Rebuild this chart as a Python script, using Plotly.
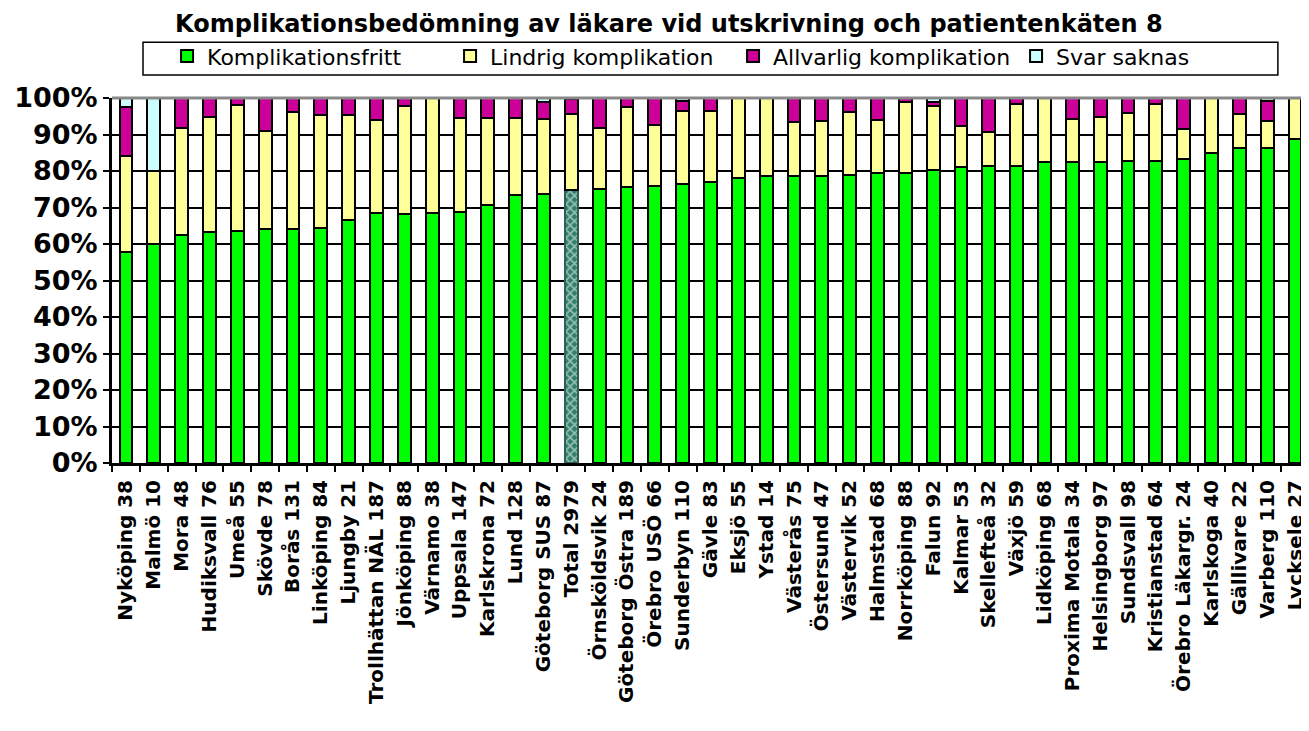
import plotly.graph_objects as go

categories = ["Nyköping 38", "Malmö 10", "Mora 48", "Hudiksvall 76", "Umeå 55", "Skövde 78",
              "Borås 131", "Linköping 84", "Ljungby 21", "Trollhättan NÄL 187", "Jönköping 88",
              "Värnamo 38", "Uppsala 147", "Karlskrona 72", "Lund 128", "Göteborg SUS 87",
              "Total 2979", "Örnsköldsvik 24", "Göteborg Östra 189", "Örebro USÖ 66",
              "Sunderbyn 110", "Gävle 83", "Eksjö 55", "Ystad 14", "Västerås 75",
              "Östersund 47", "Västervik 52", "Halmstad 68", "Norrköping 88", "Falun 92",
              "Kalmar 53", "Skellefteå 32", "Växjö 59", "Lidköping 68", "Proxima Motala 34",
              "Helsingborg 97", "Sundsvall 98", "Kristianstad 64", "Örebro Läkargr. 24",
              "Karlskoga 40", "Gällivare 22", "Varberg 110", "Lycksele 27"]

komplikationsfritt = [57.9, 60.0, 62.5, 63.2, 63.6, 64.1, 64.1, 64.3, 66.7, 68.4, 68.2, 68.4, 68.7,
                      70.8, 73.4, 73.6, 74.8, 75.0, 75.7, 75.8, 76.4, 77.1, 78.2, 78.6, 78.7, 78.7,
                      78.8, 79.4, 79.5, 80.4, 81.1, 81.3, 81.4, 82.4, 82.4, 82.5, 82.7, 82.8, 83.3,
                      85.0, 86.4, 86.4, 88.9]
lindrig = [26.3, 20.0, 29.2, 31.6, 34.5, 26.9, 32.1, 31.0, 28.6, 25.7, 29.5, 31.6, 25.9, 23.6,
           21.1, 20.7, 20.8, 16.7, 21.7, 16.7, 20.0, 19.3, 21.8, 21.4, 14.7, 14.9, 17.3, 14.7,
           19.3, 17.4, 11.3, 9.4, 16.9, 17.6, 11.8, 12.4, 13.3, 15.6, 8.3, 15.0, 9.1, 7.3, 11.1]
allvarlig = [13.2, None, 8.3, 5.3, 1.8, 9.0, 3.8, 4.8, 4.8, 5.9, 2.3, None, 5.4, 5.6, 5.5, 4.6,
             4.2, 8.3, 2.6, 7.6, 2.7, 3.6, None, None, 6.7, 6.4, 3.8, 5.9, 1.1, 1.1, 7.5, 9.4,
             1.7, None, 5.9, 5.2, 4.1, 1.6, 8.3, None, 4.5, 5.5, None]
svar_saknas = [2.6, 20.0, None, None, None, None, None, None, None, None, None, None, None, None,
               None, 1.1, 0.2, None, None, None, 0.9, None, None, None, None, None, None, None,
               None, 1.1, None, None, None, None, None, None, None, None, None, None, None, 0.9,
               None]

y_ticks = [0, 10, 20, 30, 40, 50, 60, 70, 80, 90, 100]

GREEN = "#00ff00"
YELLOW = "#ffff99"
PURPLE = "#cc0099"
CYAN = "#ccffff"

green_colors = ["#2f7f6a" if c.startswith("Total") else GREEN for c in categories]
green_pattern = ["x" if c.startswith("Total") else "" for c in categories]
green_lines = ["#2f5f55" if c.startswith("Total") else "black" for c in categories]

bar_w = 0.46
line = dict(color="black", width=2)

fig = go.Figure()
fig.add_trace(go.Bar(x=categories, y=komplikationsfritt, name="Komplikationsfritt", width=bar_w,
                     marker=dict(color=green_colors, line=dict(color=green_lines, width=2),
                                 pattern=dict(shape=green_pattern, fgcolor=GREEN, size=6, solidity=0.45))))
fig.add_trace(go.Bar(x=categories, y=lindrig, name="Lindrig komplikation", width=bar_w,
                     marker=dict(color=YELLOW, line=line)))
fig.add_trace(go.Bar(x=categories, y=allvarlig, name="Allvarlig komplikation", width=bar_w,
                     marker=dict(color=PURPLE, line=line)))
fig.add_trace(go.Bar(x=categories, y=svar_saknas, name="Svar saknas", width=bar_w,
                     marker=dict(color=CYAN, line=line)))

# page body has an 8px margin: figure is 8px smaller and shifted accordingly
fig.update_layout(
    barmode="stack",
    width=1301, height=723,
    margin=dict(l=104, r=0, t=90, b=268),
    paper_bgcolor="white", plot_bgcolor="white",
    title=dict(text="<b>Komplikationsbedömning av läkare vid utskrivning och patientenkäten 8</b>",
               x=0.508, xanchor="center", y=0.979, yanchor="middle",
               font=dict(family="DejaVu Sans", size=24, color="black")),
    legend=dict(orientation="h", x=0.046, xanchor="left", y=1.172, yanchor="top",
                borderwidth=0, bgcolor="rgba(0,0,0,0)",
                font=dict(family="DejaVu Sans", size=22, color="black"),
                entrywidth=238, entrywidthmode="pixels", traceorder="normal"),
    showlegend=True,
)

fig.update_yaxes(range=[0, 100], tickvals=y_ticks, ticktext=[f"{v}%" for v in y_ticks],
                 showgrid=True, gridcolor="black", gridwidth=2,
                 showline=True, linecolor="black", linewidth=3,
                 ticks="outside", ticklen=6, tickwidth=2, tickcolor="black",
                 tickfont=dict(family="DejaVu Sans", size=27, color="black", weight="bold"),
                 zeroline=False)
fig.update_xaxes(type="category", showline=True, linecolor="black", linewidth=3,
                 ticks="outside", tickson="boundaries", ticklen=6, tickwidth=2, tickcolor="black",
                 tickangle=-90, ticklabelstandoff=6,
                 tickfont=dict(family="DejaVu Sans", size=20, color="black", weight="bold"),
                 showgrid=False)

# legend frame
fig.add_shape(type="rect", xref="paper", yref="paper", x0=0.0259, x1=0.974, y0=1.063, y1=1.153,
              line=dict(color="black", width=1.5), fillcolor="white", layer="below")
# grey top frame line
fig.add_shape(type="line", xref="paper", yref="paper", x0=0, x1=1, y0=1, y1=1,
              line=dict(color="#888888", width=3))

fig.write_html("out.html")
